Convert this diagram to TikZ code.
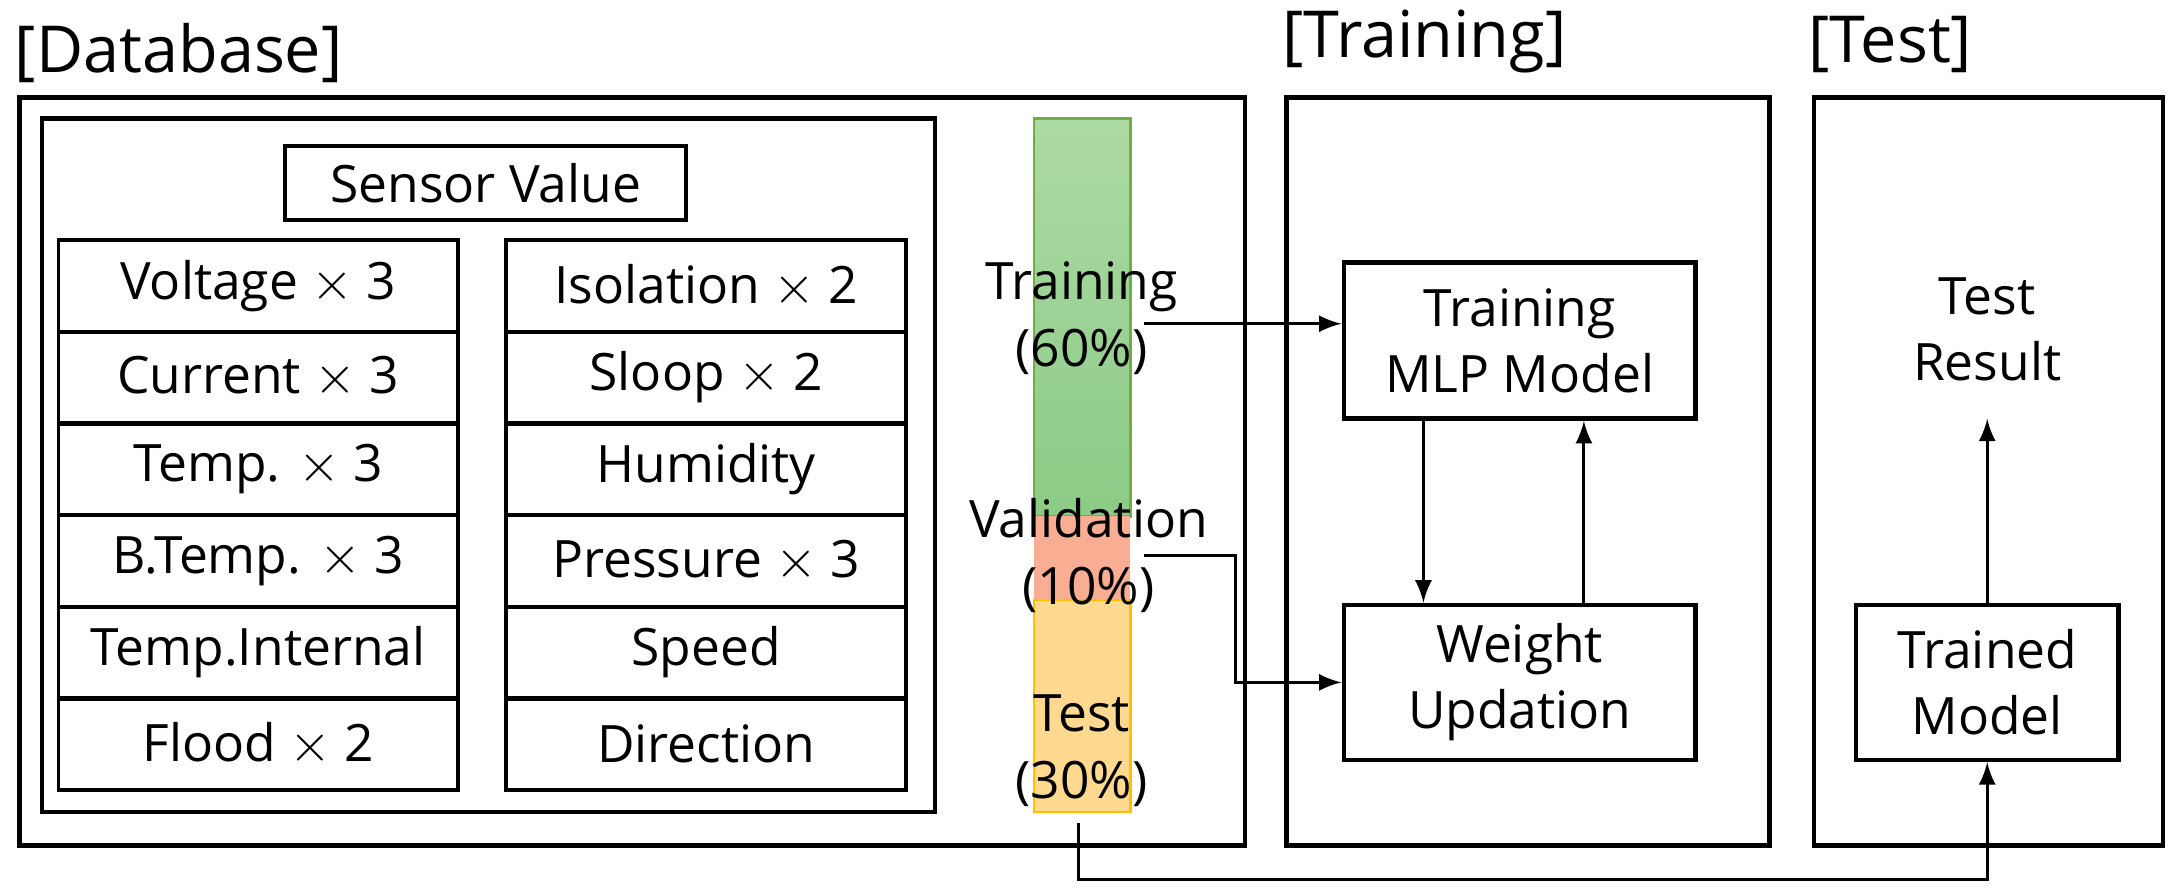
\documentclass[tikz,border=0pt]{standalone}
\usepackage{fontspec}
\setmainfont{Open Sans}
\usetikzlibrary{positioning, arrows}
\definecolor{trgreen}{HTML}{8CCB86}
\definecolor{trgreenlt}{HTML}{ACDAA4}
\definecolor{trgreenbd}{HTML}{70AD47}
\definecolor{valred}{HTML}{F9AD92}
\definecolor{tstorange}{HTML}{FFD98F}
\definecolor{tstorangebd}{HTML}{FFC000}
\tikzset{
>=latex, % filled arrow heads
}
\tikzstyle{frame} = [draw, line width=0.9pt]
\tikzstyle{cell} = [rectangle, draw, line width=0.8pt, minimum width=2.86cm, minimum height=0.66cm, inner sep=0pt, font=\fontsize{10.5}{12}\selectfont]
\tikzstyle{block} = [rectangle, draw, line width=0.9pt, text centered, inner sep=0pt, font=\fontsize{10.5}{13.5}\selectfont, align=center]
\tikzstyle{title} = [anchor=south west, inner sep=0pt, font=\fontsize{13.2}{16}\selectfont]
\tikzstyle{split} = [font=\fontsize{10.5}{13.5}\selectfont, align=center, inner sep=0pt]
\tikzstyle{line} = [draw, ->, line width=0.6pt]

\begin{document}
\begin{tikzpicture}[x=0.01cm, y=-0.01cm]
\useasboundingbox (0,0) rectangle (1560,640);
% frames
\draw [frame] (14,70) rectangle (892,606);
\draw [frame] (30,85) rectangle (670,582);
\draw [frame] (922,70) rectangle (1268,606);
\draw [frame] (1300,70) rectangle (1550,606);
\node [title] at (10,60) {[Database]};
\node [title] at (918,53) {[Training]};
\node [title] at (1295,53) {[Test]};

% sensor table
\node [block, minimum width=2.87cm, minimum height=0.53cm] (sv) at (348,131) {Sensor Value};
\foreach \name [count=\i] in {Voltage $\times$ 3, Current $\times$ 3, Temp. $\times$ 3, B.Temp. $\times$ 3, Temp.Internal, Flood $\times$ 2}
  \node [cell] (l\i) at (185,{172+(\i-0.5)*65.7}) {\name};
\foreach \name [count=\i] in {Isolation $\times$ 2, Sloop $\times$ 2, Humidity, Pressure $\times$ 3, Speed, Direction}
  \node [cell] (r\i) at (506,{172+(\i-0.5)*65.7}) {\name};

% split bar
\shade [top color=trgreenlt, bottom color=trgreen, draw=trgreenbd, line width=0.5pt] (741,85) rectangle (810,370);
\fill [valred] (741,370) rectangle (810,430);
\fill [tstorange, draw=tstorangebd, line width=0.5pt] (741,430) rectangle (810,582);
\node [split] (trn) at (775,228) {Training\\(60\%)};
\node [split] (val) at (780,398) {Validation\\(10\%)};
\node [split] (tst) at (775,538) {Test\\(30\%)};
\coordinate (trnout) at (820,232);
\coordinate (valout) at (820,398);
\coordinate (barbot) at (773,590);

% training / test
\node [block, minimum width=2.52cm, minimum height=1.12cm] (mlp) at (1089,244) {Training\\MLP Model};
\node [block, minimum width=2.52cm, minimum height=1.11cm] (wu) at (1089,489) {Weight\\Updation};
\node [block, minimum width=1.88cm, minimum height=1.11cm] (tm) at (1424,489) {Trained\\Model};
\node [split] (res) at (1424,236) {Test\\Result};

\path [line] (trnout) -- (trnout -| mlp.west);
\path [line] (valout) -- (885,398) |- (wu.west);
\path [line] (barbot) -- (773,630) -| (tm.south);
\path [line] (mlp.south -| 1020,0) -- (wu.north -| 1020,0);
\path [line] (wu.north -| 1135,0) -- (mlp.south -| 1135,0);
\path [line] (tm.north) -- (1424,300);
\end{tikzpicture}
\end{document}
